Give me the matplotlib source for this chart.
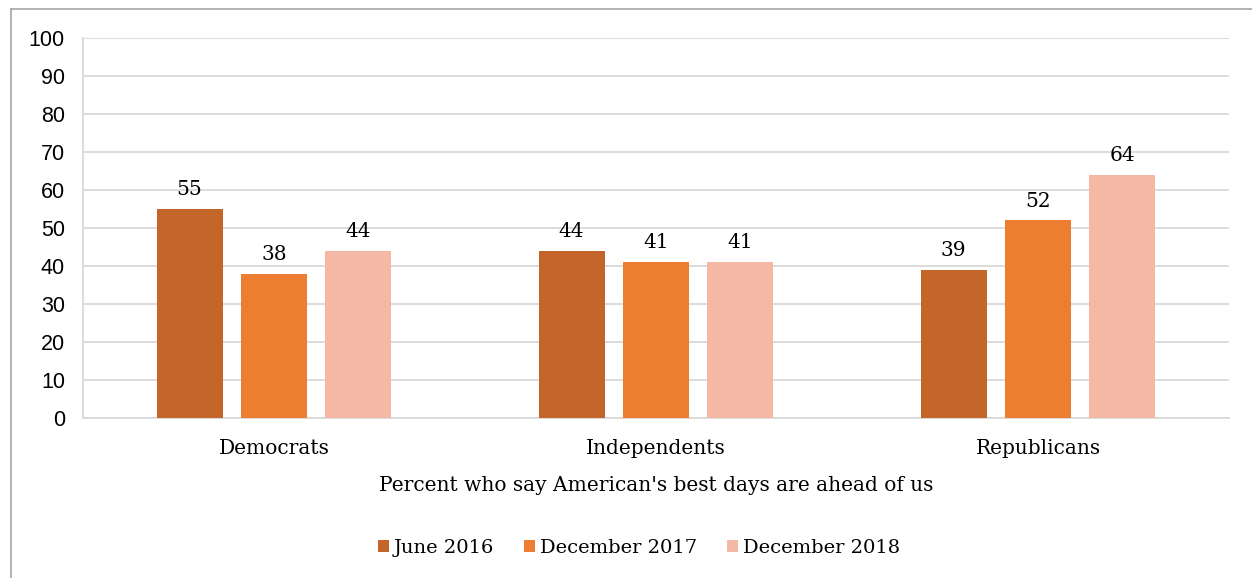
import matplotlib
matplotlib.use("Agg")
import matplotlib.pyplot as plt
import numpy as np
from matplotlib.lines import Line2D

groups = ["Democrats", "Independents", "Republicans"]
series_names = ["June 2016", "December 2017", "December 2018"]
june_2016 = [55, 44, 39]
december_2017 = [38, 41, 52]
december_2018 = [44, 41, 64]
colors = ["#C4652A", "#ED7D31", "#F4B8A4"]

slab = "DejaVu Serif"
sans = "Liberation Sans"

fig = plt.figure(figsize=(12.52, 5.78), dpi=100)
ax = fig.add_axes([0.0663, 0.2768, 0.9153, 0.6575])

x = np.arange(len(groups))
width = 0.173
step = 0.221
for k, (vals, name, col) in enumerate(zip([june_2016, december_2017, december_2018], series_names, colors)):
    pos = x + (k - 1) * step
    bars = ax.bar(pos, vals, width=width, color=col, label=name, zorder=3)
    for b, v in zip(bars, vals):
        ax.text(b.get_x() + b.get_width() / 2, v + 2.6, str(v), ha="center", va="bottom",
                fontsize=14.5, family=slab, zorder=4)

ax.set_xlim(-0.5, 2.5)
ax.set_ylim(0, 100)
ax.set_yticks(range(0, 101, 10))
ax.yaxis.grid(True, color="#D9D9D9", linewidth=1.3, zorder=0)
ax.set_axisbelow(True)
for side in ["top", "right"]:
    ax.spines[side].set_visible(False)
ax.spines["left"].set_color("#D9D9D9")
ax.spines["bottom"].set_color("#D9D9D9")
ax.spines["left"].set_linewidth(1.3)
ax.spines["bottom"].set_linewidth(1.3)
ax.tick_params(axis="both", length=0)
ax.tick_params(axis="y", pad=13, labelsize=15.5)
for lbl in ax.get_yticklabels():
    lbl.set_family(sans)
ax.set_xticks(x)
ax.set_xticklabels(groups, family=slab, fontsize=14.5)
ax.tick_params(axis="x", pad=15)
ax.set_xlabel("Percent who say American's best days are ahead of us", family=slab,
              fontsize=14.5, labelpad=13)

leg = fig.legend(loc="center", bbox_to_anchor=(0.5104, 0.052), ncol=3, frameon=False,
                 prop={"family": slab, "size": 14}, handlelength=0.55, handleheight=0.55,
                 handletextpad=0.25, columnspacing=1.55)

# outer frame: only the top and left edges remain visible
fig.add_artist(Line2D([0.0088, 0.0088], [0, 0.9844], transform=fig.transFigure,
                      color="#A6A6A6", linewidth=1.2))
fig.add_artist(Line2D([0.0088, 1.0], [0.9844, 0.9844], transform=fig.transFigure,
                      color="#A6A6A6", linewidth=1.2))

fig.savefig("out.png", dpi=100)
